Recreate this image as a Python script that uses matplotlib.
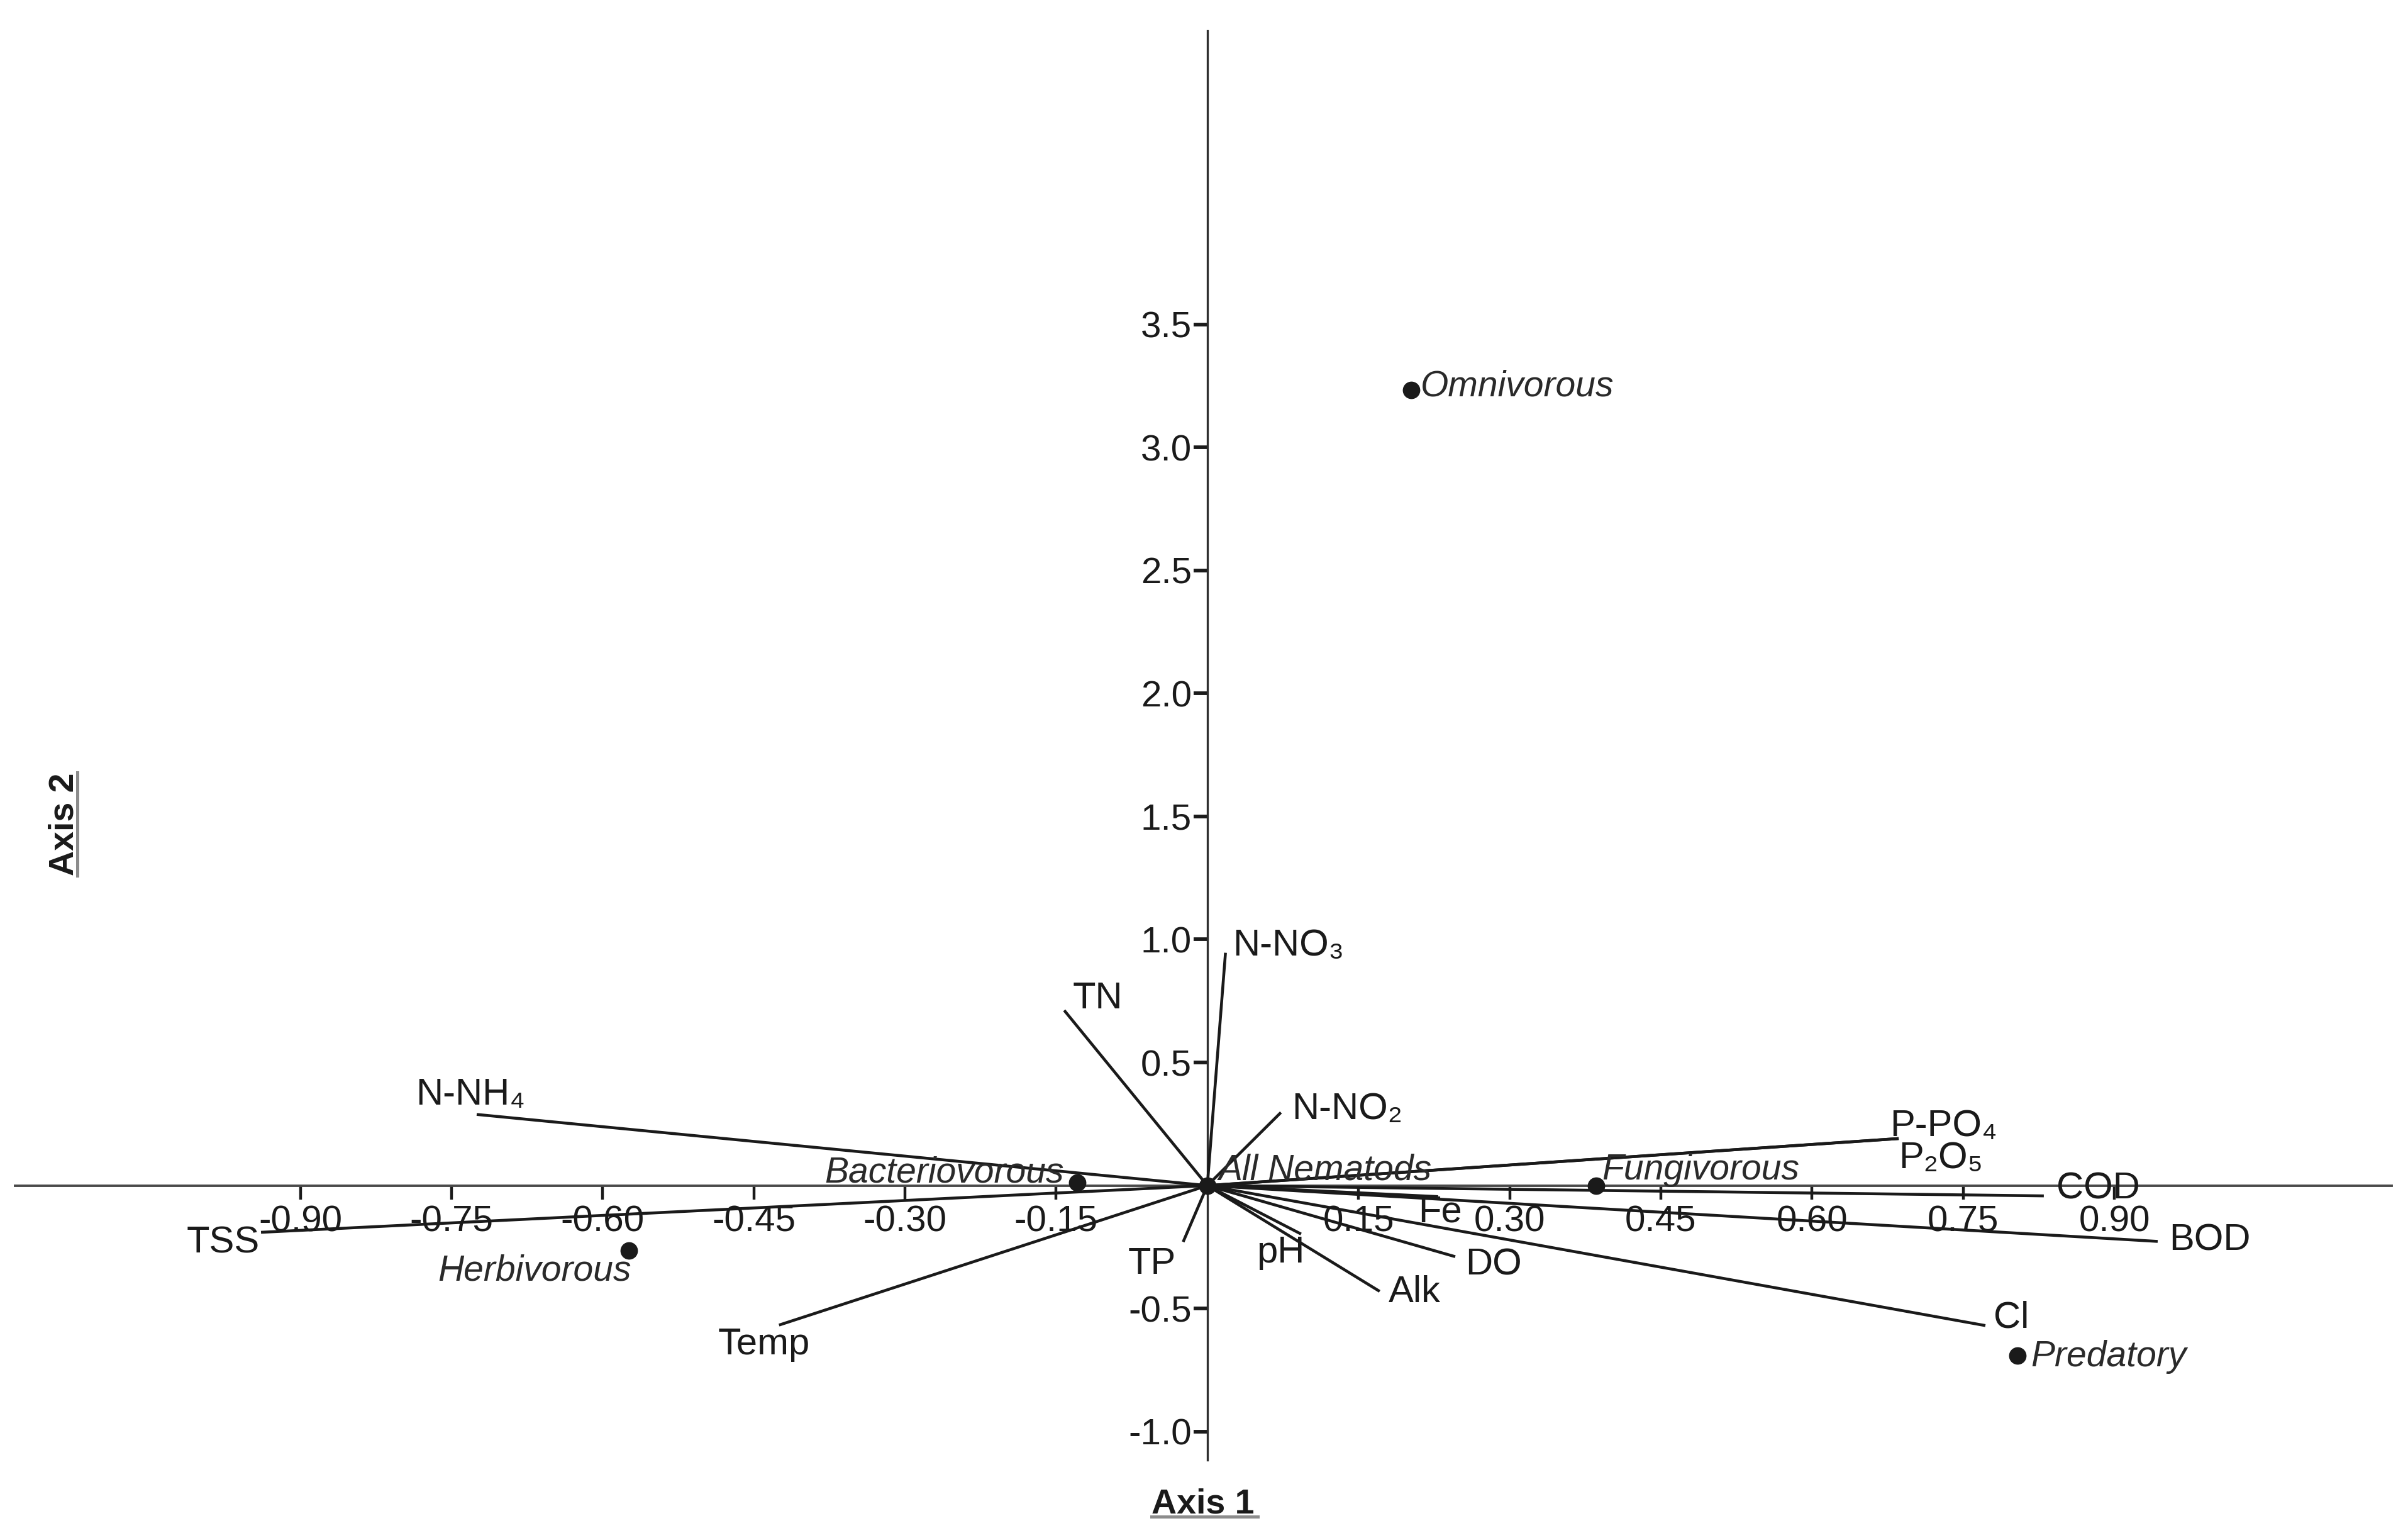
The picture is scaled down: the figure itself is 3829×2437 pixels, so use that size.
import matplotlib
matplotlib.use('Agg')
import matplotlib.pyplot as plt
from matplotlib.lines import Line2D

plt.rcParams['font.family'] = ['Liberation Sans', 'DejaVu Sans']
plt.rcParams['axes.unicode_minus'] = False

# ---------------- data ----------------
var_names = ['N-NH4', 'TSS', 'Temp', 'TN', 'N-NO3', 'N-NO2', 'TP', 'pH',
             'Alk', 'DO', 'Fe', 'Cl', 'BOD', 'COD', 'P-PO4', 'P2O5']
var_labels = ['N-NH₄', 'TSS', 'Temp', 'TN', 'N-NO₃', 'N-NO₂', 'TP', 'pH',
              'Alk', 'DO', 'Fe', 'Cl', 'BOD', 'COD', 'P-PO₄', 'P₂O₅']
var_axis1 = [-0.725, -0.939, -0.425, -0.142, 0.018, 0.073, -0.024, 0.093,
             0.171, 0.246, 0.229, 0.772, 0.943, 0.830, 0.686, 0.686]
var_axis2 = [0.289, -0.190, -0.567, 0.712, 0.946, 0.297, -0.229, -0.197,
             -0.430, -0.289, -0.045, -0.569, -0.227, -0.042, 0.191, 0.191]

group_names = ['Omnivorous', 'Bacteriovorous', 'All Nematods', 'Fungivorous',
               'Herbivorous', 'Predatory']
group_axis1 = [0.202, -0.129, 0.0, 0.386, -0.574, 0.804]
group_axis2 = [3.234, 0.013, 0.0, 0.0, -0.263, -0.691]

x_ticks = [-0.90, -0.75, -0.60, -0.45, -0.30, -0.15, 0.15, 0.30, 0.45, 0.60, 0.75, 0.90]
x_tick_labels = ['-0.90', '-0.75', '-0.60', '-0.45', '-0.30', '-0.15',
                 '0.15', '0.30', '0.45', '0.60', '0.75', '0.90']
y_ticks = [-1.0, -0.5, 0.5, 1.0, 1.5, 2.0, 2.5, 3.0, 3.5]
y_tick_labels = ['-1.0', '-0.5', '0.5', '1.0', '1.5', '2.0', '2.5', '3.0', '3.5']

# ---------------- layout (label offsets in pixels, ha) ----------------
var_label_layout = {
    'N-NH4': (-10, 16, 'center'),
    'TSS': (-2, -33, 'right'),
    'Temp': (-24, -47, 'center'),
    'TN': (13, 3, 'left'),
    'N-NO3': (11, -4, 'left'),
    'N-NO2': (17, -11, 'left'),
    'TP': (-50, -51, 'center'),
    'pH': (-32, -45, 'center'),
    'Alk': (14, -17, 'left'),
    'DO': (16, -29, 'left'),
    'Fe': (3, -40, 'center'),
    'Cl': (13, -3, 'left'),
    'BOD': (18, -14, 'left'),
    'COD': (20, -4, 'left'),
    'P-PO4': (-14, 4, 'left'),
    'P2O5': (0, -47, 'left'),
}
group_label_layout = {
    'Omnivorous': (15, -10, 'left'),
    'Bacteriovorous': (-21, 0, 'right'),
    'All Nematods': (18, 9, 'left'),
    'Fungivorous': (9, 10, 'left'),
    'Herbivorous': (4, -48, 'right'),
    'Predatory': (21, -17, 'left'),
}

W, H, DPI = 3830, 2437, 100
PX = 72.0 / DPI  # pixels -> points

fig = plt.figure(figsize=(W / DPI, H / DPI), dpi=DPI)
ax = fig.add_axes([0, 0, 1, 1])
ax.set_xlim(-1.198, 1.192)
ax.set_ylim(-1.412, 4.818)
ax.patch.set_visible(False)

# spines crossing at origin
for s in ['top', 'right']:
    ax.spines[s].set_visible(False)
ax.spines['bottom'].set_position(('data', 0))
ax.spines['left'].set_position(('data', 0))
ax.spines['bottom'].set_bounds(-1.183, 1.175)
ax.spines['left'].set_bounds(-1.116, 4.694)
ax.spines['bottom'].set_linewidth(2.8)
ax.spines['bottom'].set_color('#4a4a4a')
ax.spines['left'].set_linewidth(2.4)
ax.spines['left'].set_color('#2e2e2e')

ax.set_xticks(x_ticks)
ax.set_xticklabels(x_tick_labels)
ax.set_yticks(y_ticks)
ax.set_yticklabels(y_tick_labels)
ax.tick_params(axis='x', direction='out', length=16, width=3.2, pad=6,
               labelsize=42, colors='#1a1a1a')
ax.tick_params(axis='y', direction='out', length=16, width=4.2, pad=2,
               labelsize=42, colors='#1a1a1a')

# environmental vectors
for name, lab, x, y in zip(var_names, var_labels, var_axis1, var_axis2):
    ax.plot([0, x], [0, y], color='#1a1a1a', lw=3.3, solid_capstyle='butt', zorder=3)
    dx, dy, ha = var_label_layout[name]
    ax.annotate(lab, xy=(x, y), xytext=(dx * PX, dy * PX), textcoords='offset points',
                ha=ha, va='baseline', fontsize=43, color='#1a1a1a', zorder=5)

# group points
ax.plot(group_axis1, group_axis2, linestyle='none', marker='o', markersize=19,
        color='#1a1a1a', zorder=4)
for name, x, y in zip(group_names, group_axis1, group_axis2):
    dx, dy, ha = group_label_layout[name]
    ax.annotate(name, xy=(x, y), xytext=(dx * PX, dy * PX), textcoords='offset points',
                ha=ha, va='baseline', fontsize=41, style='italic', color='#2a2a2a',
                zorder=5)

# axis titles (bold, underlined)
t1 = fig.text(1912.5 / W, 1 - 2405 / H, 'Axis 1', ha='center', va='baseline',
              fontsize=40, fontweight='bold', color='#1a1a1a')
t2 = fig.text(116.7 / W, 1 - 1310 / H, 'Axis 2', ha='center', va='baseline',
              rotation=90, rotation_mode='anchor',
              fontsize=40, fontweight='bold', color='#1a1a1a')

renderer = fig.canvas.get_renderer()
bb1 = t1.get_window_extent(renderer)
bb2 = t2.get_window_extent(renderer)
uy = (H - 2411) / H
fig.add_artist(Line2D([bb1.x0 / W, (bb1.x1 + 6) / W], [uy, uy],
                      transform=fig.transFigure, color='#8c8c8c', lw=3.6))
ux = 123.5 / W
fig.add_artist(Line2D([ux, ux], [bb2.y0 / H, bb2.y1 / H],
                      transform=fig.transFigure, color='#8c8c8c', lw=3.6))

fig.savefig('out.png', dpi=DPI, facecolor='white')
